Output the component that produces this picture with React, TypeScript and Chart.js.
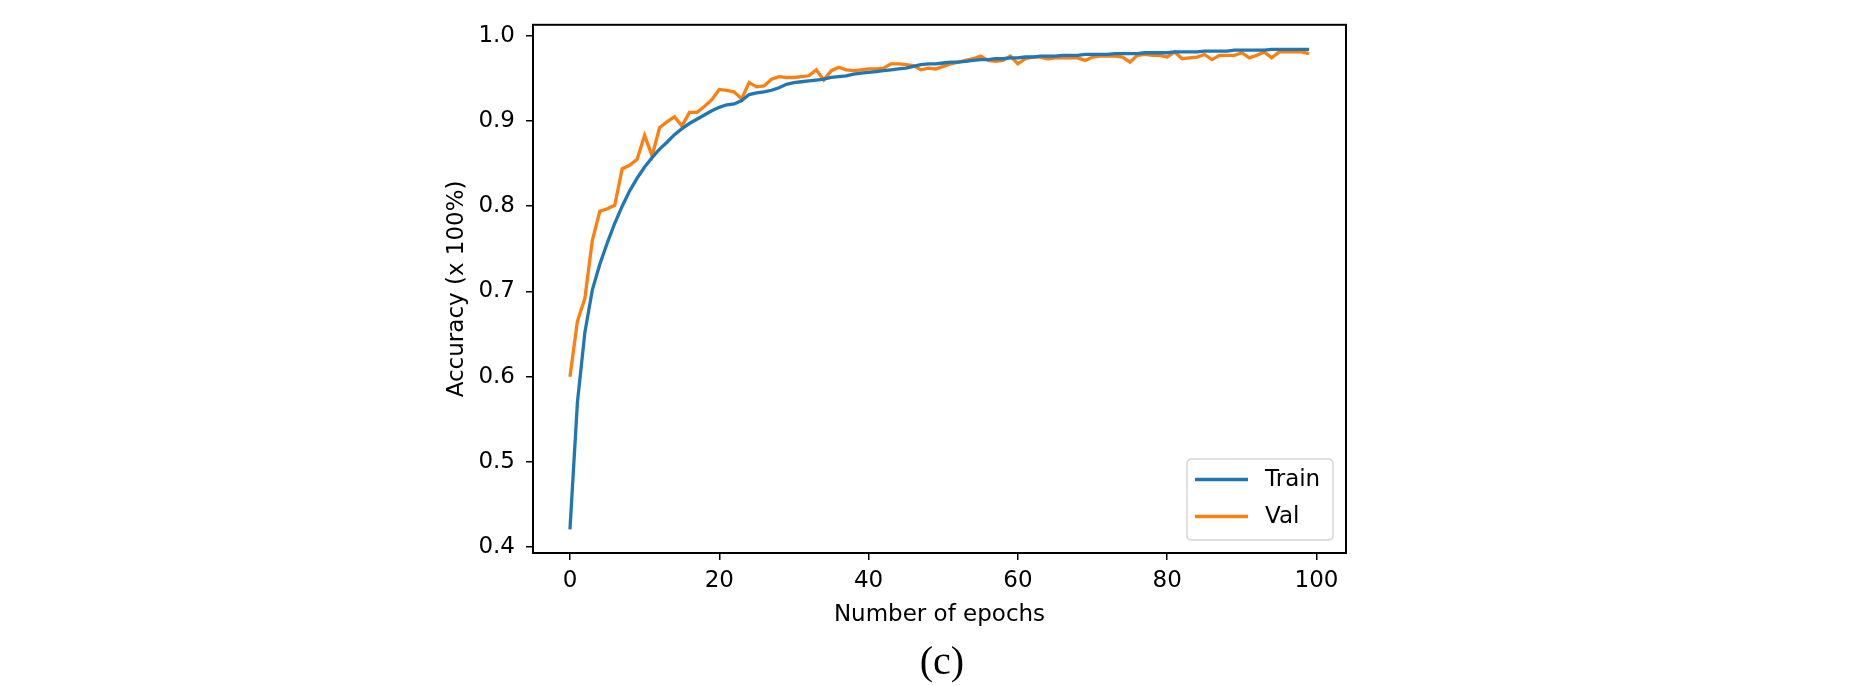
import React, { useEffect, useRef } from "react";
import { Chart, registerables } from "chart.js";

Chart.register(...registerables);

// Training accuracy per epoch (epochs 0..99)
const trainAcc: number[] = [
  0.421, 0.570, 0.652, 0.702, 0.732, 0.757, 0.780, 0.800, 0.818, 0.833,
  0.846, 0.857, 0.867, 0.875, 0.884, 0.891, 0.897, 0.902, 0.907, 0.912,
  0.916, 0.919, 0.920, 0.924, 0.931, 0.933, 0.934, 0.936, 0.939, 0.943,
  0.945, 0.946, 0.947, 0.948, 0.949, 0.951, 0.952, 0.953, 0.955, 0.956,
  0.957, 0.958, 0.959, 0.960, 0.961, 0.962, 0.964, 0.966, 0.967, 0.967,
  0.968, 0.969, 0.969, 0.970, 0.971, 0.972, 0.972, 0.973, 0.973, 0.974,
  0.974, 0.975, 0.975, 0.976, 0.976, 0.976, 0.977, 0.977, 0.977, 0.978,
  0.978, 0.978, 0.978, 0.979, 0.979, 0.979, 0.979, 0.980, 0.980, 0.980,
  0.980, 0.981, 0.981, 0.981, 0.981, 0.982, 0.982, 0.982, 0.982, 0.983,
  0.983, 0.983, 0.983, 0.983, 0.984, 0.984, 0.984, 0.984, 0.984, 0.984,
];

// Validation accuracy per epoch (epochs 0..99)
const valAcc: number[] = [
  0.600, 0.665, 0.692, 0.760, 0.794, 0.797, 0.801, 0.844, 0.848, 0.855,
  0.883, 0.859, 0.892, 0.899, 0.905, 0.894, 0.910, 0.910, 0.917, 0.925,
  0.937, 0.936, 0.934, 0.926, 0.945, 0.940, 0.941, 0.949, 0.952, 0.951,
  0.951, 0.952, 0.953, 0.960, 0.948, 0.959, 0.963, 0.960, 0.959, 0.960,
  0.961, 0.961, 0.962, 0.967, 0.967, 0.966, 0.965, 0.960, 0.962, 0.961,
  0.964, 0.967, 0.969, 0.971, 0.973, 0.976, 0.971, 0.970, 0.971, 0.976,
  0.967, 0.973, 0.975, 0.975, 0.973, 0.974, 0.974, 0.974, 0.974, 0.971,
  0.975, 0.976, 0.976, 0.976, 0.975, 0.969, 0.977, 0.978, 0.977, 0.977,
  0.975, 0.981, 0.973, 0.974, 0.975, 0.978, 0.972, 0.977, 0.977, 0.977,
  0.980, 0.974, 0.977, 0.981, 0.974, 0.981, 0.981, 0.981, 0.981, 0.979,
];

const epochs: number[] = trainAcc.map((_, i) => i);

const xTicks: number[] = [0, 20, 40, 60, 80, 100];
const yTicks: number[] = [0.4, 0.5, 0.6, 0.7, 0.8, 0.9, 1.0];

const seriesLabels: string[] = ["Train", "Val"];
const seriesColors: string[] = ["#1f77b4", "#ff7f0e"];

const FONT = '"DejaVu Sans", "Noto Sans", sans-serif';
const FONT_SIZE = 23;
const LINE_W = 3.3;

const framePlugin = {
  id: "frame",
  afterDatasetsDraw(chart: any) {
    const { ctx, chartArea } = chart;
    ctx.save();
    ctx.strokeStyle = "#000";
    ctx.lineWidth = 2;
    ctx.strokeRect(
      chartArea.left,
      chartArea.top,
      chartArea.right - chartArea.left,
      chartArea.bottom - chartArea.top
    );
    ctx.restore();
  },
};

const legendPlugin = {
  id: "mplLegend",
  afterDraw(chart: any) {
    const { ctx, chartArea } = chart;
    const right = chartArea.right - 13;
    const bottom = chartArea.bottom - 13;
    const w = 146;
    const h = 81;
    const left = right - w;
    const top = bottom - h;
    const r = 5;
    ctx.save();
    ctx.beginPath();
    ctx.moveTo(left + r, top);
    ctx.lineTo(right - r, top);
    ctx.quadraticCurveTo(right, top, right, top + r);
    ctx.lineTo(right, bottom - r);
    ctx.quadraticCurveTo(right, bottom, right - r, bottom);
    ctx.lineTo(left + r, bottom);
    ctx.quadraticCurveTo(left, bottom, left, bottom - r);
    ctx.lineTo(left, top + r);
    ctx.quadraticCurveTo(left, top, left + r, top);
    ctx.closePath();
    ctx.fillStyle = "rgba(255,255,255,0.85)";
    ctx.fill();
    ctx.strokeStyle = "#d6d6d6";
    ctx.lineWidth = 1.5;
    ctx.stroke();

    const rows = [top + 20.5, top + 57.5];
    chart.data.datasets.forEach((ds: any, i: number) => {
      const y = rows[i];
      ctx.beginPath();
      ctx.moveTo(left + 8, y);
      ctx.lineTo(left + 61, y);
      ctx.strokeStyle = ds.borderColor;
      ctx.lineWidth = LINE_W;
      ctx.stroke();
      ctx.fillStyle = "#000";
      ctx.font = `${FONT_SIZE}px ${FONT}`;
      ctx.textAlign = "left";
      ctx.textBaseline = "middle";
      ctx.fillText(ds.label, left + 78, y + 1);
    });
    ctx.restore();
  },
};

export default function App() {
  const canvasRef = useRef<HTMLCanvasElement | null>(null);

  useEffect(() => {
    const canvas = canvasRef.current;
    if (!canvas) return;
    const font = { family: FONT, size: FONT_SIZE };
    const series = [trainAcc, valAcc];
    const chart = new Chart(canvas, {
      type: "line",
      data: {
        datasets: series.map((vals, s) => ({
          label: seriesLabels[s],
          data: epochs.map((e, i) => ({ x: e, y: vals[i] })),
          borderColor: seriesColors[s],
          backgroundColor: seriesColors[s],
          borderWidth: LINE_W,
          pointRadius: 0,
          tension: 0,
          fill: false,
        })),
      },
      options: {
        responsive: false,
        animation: false,
        devicePixelRatio: 1,
        layout: { padding: { left: 0, top: 7, right: 525, bottom: 0 } },
        plugins: {
          legend: { display: false },
          tooltip: { enabled: false },
        },
        scales: {
          x: {
            type: "linear",
            min: -4.95,
            max: 103.95,
            afterBuildTicks: (s: any) => {
              s.ticks = xTicks.map((v) => ({ value: v }));
            },
            afterFit: (s: any) => {
              s.height = 133;
            },
            ticks: {
              color: "#000",
              font,
              padding: 7,
              maxRotation: 0,
              autoSkip: false,
              callback: (v: any) => String(v),
            },
            grid: {
              drawOnChartArea: false,
              tickLength: 7,
              color: "#000",
              lineWidth: 1.5,
            },
            border: { color: "#000", width: 2 },
            title: {
              display: true,
              text: "Number of epochs",
              color: "#000",
              font,
              padding: { top: 0, bottom: 57 },
            },
          },
          y: {
            type: "linear",
            min: 0.3932,
            max: 1.0128,
            afterBuildTicks: (s: any) => {
              s.ticks = yTicks.map((v) => ({ value: v }));
            },
            afterFit: (s: any) => {
              s.width = 533;
            },
            ticks: {
              color: "#000",
              font,
              padding: 11,
              autoSkip: false,
              callback: (v: any) => Number(v).toFixed(1),
            },
            grid: {
              drawOnChartArea: false,
              tickLength: 7,
              color: "#000",
              lineWidth: 1.5,
            },
            border: { color: "#000", width: 2 },
            title: {
              display: true,
              text: "Accuracy (x 100%)",
              color: "#000",
              font,
              padding: { top: 443, bottom: 0 },
            },
          },
        },
      },
      plugins: [framePlugin, legendPlugin],
    });
    return () => chart.destroy();
  }, []);

  return (
    <div style={{ position: "absolute", left: 0, top: 0, width: 1871, height: 686, background: "#fff" }}>
      <canvas ref={canvasRef} width={1871} height={686} style={{ width: 1871, height: 686, display: "block" }} />
      <div
        style={{
          position: "absolute",
          left: 942,
          top: 661,
          transform: "translate(-50%, -50%)",
          fontFamily: '"Liberation Serif", "Times New Roman", serif',
          fontSize: 40,
          lineHeight: 1,
          color: "#000",
          whiteSpace: "nowrap",
        }}
      >
        (c)
      </div>
    </div>
  );
}
